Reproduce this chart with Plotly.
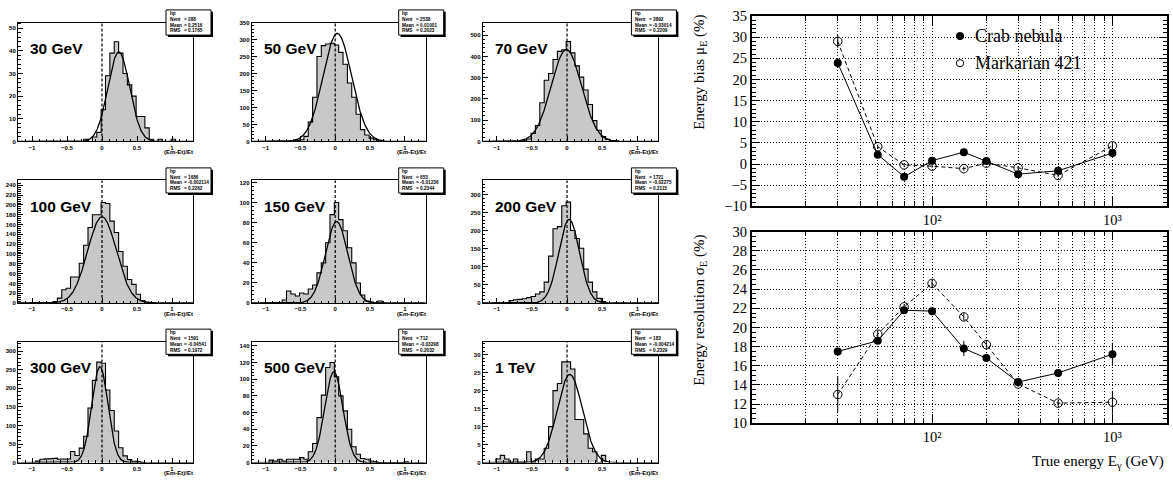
import numpy as np
import plotly.graph_objects as go

W, H = 1173, 489


def X(px):
    return px / W


def Y(py):
    return 1 - py / H


# ---------------- histogram panels ----------------
panel_labels = ["30 GeV", "50 GeV", "70 GeV", "100 GeV", "150 GeV", "200 GeV",
                "300 GeV", "500 GeV", "1 TeV"]
hist_name = "hp"
nent = [288, 2538, 3892, 1686, 653, 1721, 1591, 712, 183]
mean_txt = ["0.2516", "0.01001", "-0.03014", "-0.002114", "-0.01236", "-0.02275",
            "-0.04541", "-0.03298", "-0.004214"]
rms_txt = ["0.1765", "0.2023", "0.2209", "0.2262", "0.2344", "0.2115", "0.1972",
           "0.2032", "0.2329"]

bin_low = -1.2
bin_width = 0.0625
n_bins = 40

first_bin = [15, 8, 9, 8, 7, 6, 4, 4, 3]
counts_30 = [1, 0, 2, 4, 14, 29, 39, 44, 39, 30, 25, 20, 11, 11, 6, 1, 0, 1, 0, 0, 1]
counts_50 = [1, 2, 3, 5, 15, 57, 130, 250, 282, 287, 289, 284, 262, 227, 172, 130, 80,
             35, 19, 10, 5, 2]
counts_70 = [3, 12, 38, 75, 182, 288, 320, 386, 424, 432, 470, 417, 356, 303, 242, 174,
             98, 53, 23, 10, 4, 2]
counts_100 = [3, 10, 27, 30, 53, 53, 81, 118, 154, 180, 180, 205, 203, 167, 144, 105,
              75, 48, 38, 18, 5, 2]
counts_150 = [3, 12, 9, 7, 10, 9, 14, 18, 30, 40, 60, 88, 100, 83, 72, 55, 40, 20, 8, 2,
              1, 0, 2]
counts_200 = [7, 9, 10, 12, 15, 18, 25, 31, 58, 130, 206, 212, 270, 280, 201, 179, 152,
              94, 58, 31, 13, 4]
counts_300 = [4, 9, 10, 10, 12, 9, 9, 10, 30, 19, 39, 71, 147, 221, 270, 267, 195, 140,
              85, 40, 18, 8, 4, 3, 1]
counts_500 = [3, 2, 4, 2, 4, 4, 4, 6, 4, 13, 23, 54, 81, 114, 120, 103, 80, 62, 40, 19,
              10, 5, 4, 2, 1, 0, 0, 0, 0, 0, 0, 1]
counts_1tev = [1, 2, 1, 0, 1, 0, 0, 3, 0, 1, 1, 4, 10, 20, 22, 28, 28, 26, 12, 12, 8, 4,
               3, 0, 2]

fit_amp = [39.5, 318, 433, 176, 81, 232, 258, 109, 24.5]
fit_mean = [0.24, 0.03, -0.01, 0.0, 0.02, 0.03, -0.03, -0.02, 0.04]
fit_sigma = [0.155, 0.205, 0.215, 0.205, 0.16, 0.148, 0.115, 0.13, 0.178]

y_max = [52.5, 350, 560, 250, 122, 340, 325, 145, 33.6]
y_dtick = [10, 50, 100, 20, 20, 50, 50, 20, 5]
y_minor = [2, 10, 20, 4, 4, 10, 10, 4, 1]

# ---------------- energy bias / resolution ----------------
energies_gev = [30, 50, 70, 100, 150, 200, 300, 500, 1000]
crab_bias = [23.9, 2.2, -3.0, 0.8, 2.8, 0.7, -2.4, -1.6, 2.6]
crab_bias_err = [1.1, 0.5, 0.4, 0.5, 0.5, 0.4, 0.4, 0.5, 0.7]
mrk_bias = [29.0, 4.1, -0.2, -0.5, -1.1, 0.2, -0.9, -2.7, 4.3]
mrk_bias_err = [1.5, 0.5, 0.4, 0.4, 0.5, 0.4, 0.4, 0.4, 0.7]
crab_res = [17.5, 18.6, 21.8, 21.7, 17.8, 16.8, 14.3, 15.25, 17.2]
crab_res_err = [0.4, 0.3, 0.3, 0.3, 0.8, 0.3, 0.3, 0.3, 1.2]
mrk_res = [13.0, 19.3, 22.15, 24.6, 21.1, 18.2, 14.1, 12.1, 12.2]
mrk_res_err = [1.85, 0.4, 0.3, 0.4, 0.4, 0.4, 0.3, 0.3, 1.2]

grid_energies = [20, 30, 40, 50, 60, 70, 80, 90, 100, 200, 300, 400, 500, 600, 700,
                 800, 900, 1000]
decade_ticks = [100, 1000]
decade_labels = ["10\u00b2", "10\u00b3"]
legend_names = ["Crab nebula", "Markarian 421"]

# ---------------- figure ----------------
hist_counts = [counts_30, counts_50, counts_70, counts_100, counts_150, counts_200,
               counts_300, counts_500, counts_1tev]

col_px = [(18.0, 193.0), (251.7, 425.7), (482.7, 658.4)]
row_px = [(15.0, 138.0), (178.3, 305.0), (345.0, 470.0)]

small_font = dict(family="Liberation Sans", size=6, color="black", weight="bold")
serif = "Liberation Serif"

layout = dict(width=W, height=H, autosize=False,
              margin=dict(l=0, r=0, t=0, b=0),
              paper_bgcolor="white", plot_bgcolor="white", showlegend=False,
              font=dict(family=serif, color="black"))
shapes = []
annotations = []
traces = []

edges = bin_low + bin_width * np.arange(n_bins + 1)
fx = np.linspace(-1.2, 1.3, 500)

for p in range(9):
    r, c = divmod(p, 3)
    l, rt = col_px[c]
    t, b = row_px[r]
    ax = p + 1
    xn = "x" if ax == 1 else f"x{ax}"
    yn = "y" if ax == 1 else f"y{ax}"
    xk = "xaxis" if ax == 1 else f"xaxis{ax}"
    yk = "yaxis" if ax == 1 else f"yaxis{ax}"

    layout[xk] = dict(domain=[X(l), X(rt)], range=[-1.2, 1.3], anchor=yn,
                      showline=True, linecolor="black", linewidth=1, mirror=True,
                      ticks="inside", ticklen=5, tickwidth=1, tickcolor="black",
                      tick0=0, dtick=0.5, tickfont=small_font,
                      minor=dict(ticks="inside", tick0=0, dtick=0.1, ticklen=2.5,
                                 tickcolor="black", showgrid=False),
                      showgrid=False, zeroline=False, fixedrange=True)
    layout[yk] = dict(domain=[Y(b), Y(t)], range=[0, y_max[p]], anchor=xn,
                      showline=True, linecolor="black", linewidth=1, mirror=True,
                      ticks="inside", ticklen=5, tickwidth=1, tickcolor="black",
                      tick0=0, dtick=y_dtick[p], tickfont=small_font,
                      minor=dict(ticks="inside", tick0=0, dtick=y_minor[p],
                                 ticklen=2.5, tickcolor="black", showgrid=False),
                      showgrid=False, zeroline=False, fixedrange=True)

    k0 = first_bin[p]
    cnt = hist_counts[p]
    hx = [edges[k0]]
    hy = [0]
    for j, cv in enumerate(cnt):
        hx += [edges[k0 + j], edges[k0 + j + 1]]
        hy += [cv, cv]
    hx.append(edges[k0 + len(cnt)])
    hy.append(0)
    traces.append(go.Scatter(x=hx, y=hy, xaxis=xn, yaxis=yn, mode="lines",
                             fill="tozeroy", fillcolor="#c8c8c8",
                             line=dict(color="black", width=1.1), hoverinfo="skip"))
    fy = fit_amp[p] * np.exp(-0.5 * ((fx - fit_mean[p]) / fit_sigma[p]) ** 2)
    traces.append(go.Scatter(x=fx, y=fy, xaxis=xn, yaxis=yn, mode="lines",
                             line=dict(color="black", width=1.3), hoverinfo="skip"))

    shapes.append(dict(type="line", xref=xn, yref=f"{yn} domain", x0=0, x1=0,
                       y0=0, y1=1, line=dict(color="black", width=1.2,
                                             dash="3px,2px")))
    # stats box
    bx0, bx1, by0, by1 = rt - 27, rt + 18, t - 13, t + 13
    shapes.append(dict(type="rect", xref="paper", yref="paper",
                       x0=X(bx0 + 2), x1=X(bx1 + 2), y0=Y(by1 + 2), y1=Y(by0 + 2),
                       fillcolor="black", line=dict(width=0)))
    shapes.append(dict(type="rect", xref="paper", yref="paper",
                       x0=X(bx0), x1=X(bx1), y0=Y(by1), y1=Y(by0),
                       fillcolor="white", line=dict(color="black", width=1)))
    box_font = dict(family="Liberation Sans", size=4.7, color="black", weight="bold")
    lines = [(hist_name, None), ("Nent", f"= {nent[p]}"), ("Mean", f"= {mean_txt[p]}"),
             ("RMS", f"= {rms_txt[p]}")]
    for li, (lab, val) in enumerate(lines):
        yy = by0 + 3.6 + li * 6.0
        annotations.append(dict(x=X(bx0 + 1.5), y=Y(yy), xref="paper", yref="paper",
                                text=lab, showarrow=False, xanchor="left",
                                yanchor="middle", font=box_font))
        if val is not None:
            annotations.append(dict(x=X(bx0 + 15.5), y=Y(yy), xref="paper",
                                    yref="paper", text=val, showarrow=False,
                                    xanchor="left", yanchor="middle", font=box_font))
    annotations.append(dict(x=X(l + 10), y=Y(t + 27), xref="paper", yref="paper",
                            text=panel_labels[p], showarrow=False, xanchor="left",
                            yanchor="middle",
                            font=dict(family="Liberation Sans", size=15.5,
                                      color="black", weight="bold")))
    annotations.append(dict(x=X(rt + 2), y=Y(b + 11), xref="paper", yref="paper",
                            text="(Em-Et)/Et", showarrow=False, xanchor="right",
                            yanchor="middle", font=small_font))

# ---------------- right-hand plots ----------------
rl, rr = 751.7, 1166.7
frames = [(8.3, 205.0), (231.2, 429.3)]
yranges = [[-10, 35], [10, 30]]
ydticks = [5, 2]
yminors = [1, 0.5]
series = [(crab_bias, crab_bias_err, mrk_bias, mrk_bias_err),
          (crab_res, crab_res_err, mrk_res, mrk_res_err)]
tick_font = dict(family=serif, size=14.5, color="black")

for i in range(2):
    ax = 10 + i
    xn, yn = f"x{ax}", f"y{ax}"
    t, b = frames[i]
    layout[f"xaxis{ax}"] = dict(domain=[X(rl), X(rr)], type="log", range=[1.0, 3.301],
                                anchor=yn, tickmode="array", tickvals=decade_ticks,
                                ticktext=decade_labels, ticks="inside", ticklen=9,
                                tickcolor="black", tickwidth=1,
                                minor=dict(tickmode="array", tickvals=grid_energies,
                                           ticks="inside", ticklen=5,
                                           tickcolor="black", showgrid=True,
                                           gridcolor="black", gridwidth=1,
                                           griddash="1px,2px"),
                                showline=True, linecolor="black", linewidth=1.6,
                                mirror="ticks", showgrid=True, gridcolor="black",
                                gridwidth=1, griddash="1px,2px", zeroline=False,
                                tickfont=tick_font, fixedrange=True)
    layout[f"yaxis{ax}"] = dict(domain=[Y(b), Y(t)], range=yranges[i], anchor=xn,
                                tick0=0, dtick=ydticks[i], ticks="inside", ticklen=8,
                                tickcolor="black", tickwidth=1,
                                minor=dict(ticks="inside", tick0=0, dtick=yminors[i],
                                           ticklen=4, tickcolor="black",
                                           showgrid=False),
                                showline=True, linecolor="black", linewidth=1.6,
                                mirror="ticks", showgrid=True, gridcolor="black",
                                gridwidth=1, griddash="1px,2px", zeroline=False,
                                tickfont=tick_font, fixedrange=True)
    cy, ce, my, me = series[i]
    traces.append(go.Scatter(x=energies_gev, y=my, xaxis=xn, yaxis=yn,
                             mode="lines+markers",
                             line=dict(color="black", width=1, dash="4px,3px"),
                             marker=dict(symbol="circle-open", size=8.5, color="black",
                                         line=dict(width=1, color="black")),
                             error_y=dict(type="data", array=me, color="black",
                                          thickness=1, width=0),
                             name=legend_names[1], hoverinfo="skip"))
    traces.append(go.Scatter(x=energies_gev, y=cy, xaxis=xn, yaxis=yn,
                             mode="lines+markers",
                             line=dict(color="black", width=1),
                             marker=dict(symbol="circle", size=8, color="black"),
                             error_y=dict(type="data", array=ce, color="black",
                                          thickness=1, width=0),
                             name=legend_names[0], hoverinfo="skip"))

# legend glyphs
leg_rows = [29.0, 57.0]
for j, name in enumerate(legend_names):
    cyp = leg_rows[j]
    shapes.append(dict(type="circle", xref="paper", yref="paper",
                       x0=X(956.3), x1=X(963.7), y0=Y(cyp + 3.7), y1=Y(cyp - 3.7),
                       fillcolor="black" if j == 0 else "white",
                       line=dict(color="black", width=1)))
    annotations.append(dict(x=X(973), y=Y(cyp), xref="paper", yref="paper", text=name,
                            showarrow=False, xanchor="left", yanchor="middle",
                            font=dict(family=serif, size=18, color="black")))

title_font = dict(family=serif, size=15, color="black")
annotations.append(dict(x=X(700), y=Y(67), xref="paper", yref="paper",
                        text="Energy bias \u03bc<sub>E</sub> (%)", textangle=-90,
                        showarrow=False, xanchor="center", yanchor="middle",
                        font=title_font))
annotations.append(dict(x=X(700), y=Y(313), xref="paper", yref="paper",
                        text="Energy resolution \u03c3<sub>E</sub> (%)", textangle=-90,
                        showarrow=False, xanchor="center", yanchor="middle",
                        font=title_font))
annotations.append(dict(x=X(1030), y=Y(469), xref="paper", yref="paper",
                        text="True energy E<sub>\u03b3</sub> (GeV)", showarrow=False,
                        xanchor="left", yanchor="middle", font=title_font))

layout["shapes"] = shapes
layout["annotations"] = annotations

fig = go.Figure(data=traces, layout=layout)
fig.write_html("out.html",
               config={"displayModeBar": False},
               post_script="document.body.style.margin='0';"
                           "document.body.style.overflow='hidden';")
